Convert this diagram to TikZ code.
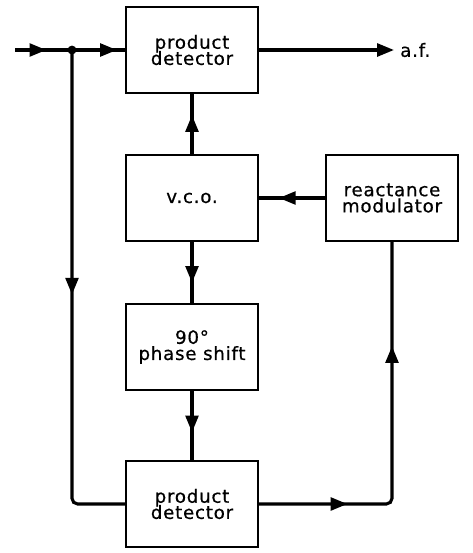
\documentclass[tikz,border=0pt]{standalone}
\usepackage{fontspec}
\usetikzlibrary{arrows.meta,decorations.markings}
\newfontfamily\blockfont[LetterSpace=4,FakeBold=0.6]{DejaVu Sans}
\newcommand\blocktext{\blockfont\fontsize{13}{11.5}\selectfont\lineskiplimit=-20pt\relax}

\begin{document}
\begin{tikzpicture}[font=\blocktext,
        line width=2.2pt,
        block/.style={draw,line width=1.7pt,minimum width=3.3cm,minimum height=2.15cm,align=center},
        arr/.style={postaction={decorate},decoration={markings,
                mark=at position #1 with {\arrow{Triangle[length=0.42cm,width=0.32cm]}}}},
        arrr/.style 2 args={postaction={decorate},decoration={markings,
                mark=at position #1 with {\arrow{Triangle[length=0.42cm,width=0.32cm]}},
                mark=at position #2 with {\arrow{Triangle[length=0.42cm,width=0.32cm]}}}}]
        \useasboundingbox (0,0) rectangle (11.8,-13.825);
        \node[block](pd1) at (4.8,-1.25) {product\\detector};
        \node[block](vco) at (4.8,-4.95) {v.c.o.};
        \node[block](rm) at (9.8,-4.95) {reactance\\modulator};
        \node[block](ps) at (4.8,-8.675) {90°\\phase shift};
        \node[block](pd2) at (4.8,-12.6) {product\\detector};
        \node[anchor=west](af) at (9.85,-1.25) {a.f.};
        \coordinate(in) at (0.375,-1.25);
        \coordinate(dot) at (1.8,-1.25);
        \fill (dot) circle (0.11);
        \draw[arr=0.55](in)--(dot);
        \draw[arr=0.85](dot)--(pd1.west);
        \draw[-{Triangle[length=0.42cm,width=0.32cm]}](pd1.east)--(af.west);
        \draw[arr=0.65](vco.north)--(pd1.south);
        \draw[arr=0.7](rm.west)--(vco.east);
        \draw[arr=0.67](vco.south)--(ps.north);
        \draw[arr=0.6](ps.south)--(pd2.north);
        \draw[arr=0.485,rounded corners=4pt](dot)|-(pd2.west);
        \draw[arrr={0.225}{0.735},rounded corners=4pt](pd2.east)-|(rm.south);
        \end{tikzpicture}
\end{document}
